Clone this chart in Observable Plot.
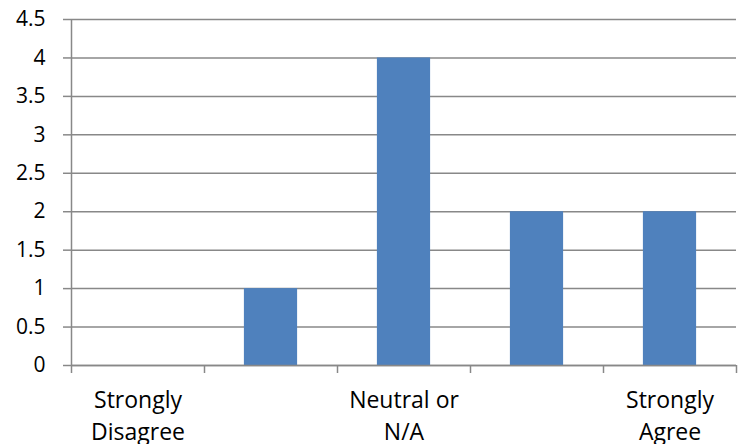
<!DOCTYPE html>
<html>
<head>
<meta charset="utf-8">
<script src="https://cdn.jsdelivr.net/npm/d3@7"></script>
<script src="https://cdn.jsdelivr.net/npm/@observablehq/plot@0.6"></script>
<style>
  html, body { margin: 0; padding: 0; background: #fff; }
  #chart svg { display: block; }
</style>
</head>
<body>
<div id="chart"></div>
<script>
const categories = ["Strongly\nDisagree", "", "Neutral or\nN/A", "", "Strongly\nAgree"];
const values = [0, 1, 4, 2, 2];
const yTicks = [0, 0.5, 1, 1.5, 2, 2.5, 3, 3.5, 4, 4.5];

const data = categories.map((c, i) => ({index: i, label: c, value: values[i]}));
const boundaries = d3.range(categories.length + 1);
const centers = categories.map((c, i) => i + 0.5);

const gray = "#888888";
const font = "'Open Sans', sans-serif";

const chart = Plot.plot({
  width: 742,
  height: 444,
  marginTop: 19,
  marginBottom: 79,
  marginLeft: 71,
  marginRight: 6,
  style: {fontFamily: font, fontSize: "21px", color: "#000", background: "#fff"},
  x: {type: "linear", domain: [0, categories.length]},
  y: {domain: [0, 4.5]},
  marks: [
    Plot.gridY(yTicks, {stroke: gray, strokeOpacity: 1, strokeWidth: 1.5}),
    Plot.rectY(data, {x1: d => d.index + 0.3, x2: d => d.index + 0.7, y: "value", fill: "#4F81BD"}),
    Plot.ruleY([0], {stroke: gray, strokeWidth: 1.5}),
    Plot.ruleX([0], {stroke: gray, strokeWidth: 1.5}),
    Plot.axisY({ticks: yTicks, tickSize: 8, tickPadding: 18, stroke: gray, strokeWidth: 1.5, strokeOpacity: 1,
      tickFormat: d => String(d), fill: "#000", fontSize: 21, label: null}),
    Plot.axisX({ticks: boundaries, tickSize: 8, stroke: gray, strokeWidth: 1.5, strokeOpacity: 1,
      tickFormat: () => "", label: null}),
    Plot.axisX({ticks: centers, tickSize: 0, tickPadding: 20, lineHeight: 1.39,
      tickFormat: d => categories[Math.floor(d)], fill: "#000", fontSize: 23, label: null})
  ]
});
document.getElementById("chart").appendChild(chart);
</script>
</body>
</html>
